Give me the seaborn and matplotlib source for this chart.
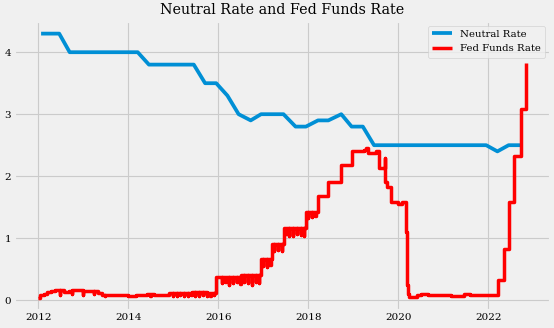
import matplotlib
matplotlib.use("Agg")
import matplotlib.pyplot as plt
import matplotlib.dates as mdates
import seaborn as sns
import pandas as pd

# ---------------- data ----------------
# Neutral rate (long-run projection), points at projection dates
neutral_dates = [
    "2012-01-25", "2012-04-25", "2012-06-20", "2012-09-13", "2012-12-12",
    "2013-03-20", "2013-06-19", "2013-09-18", "2013-12-18",
    "2014-03-19", "2014-06-18", "2014-09-17", "2014-12-17",
    "2015-03-18", "2015-06-17", "2015-09-17", "2015-12-16",
    "2016-03-16", "2016-06-15", "2016-09-21", "2016-12-14",
    "2017-03-15", "2017-06-14", "2017-09-20", "2017-12-13",
    "2018-03-21", "2018-06-13", "2018-09-26", "2018-12-19",
    "2019-03-20", "2019-06-19", "2019-09-18", "2019-12-11",
    "2020-06-10", "2020-09-16", "2020-12-16",
    "2021-03-17", "2021-06-16", "2021-09-22", "2021-12-15",
    "2022-03-16", "2022-06-15", "2022-09-21"]
neutral_rates = [
    4.3, 4.3, 4.3, 4.0, 4.0,
    4.0, 4.0, 4.0, 4.0,
    4.0, 3.8, 3.8, 3.8,
    3.8, 3.8, 3.5, 3.5,
    3.3, 3.0, 2.9, 3.0,
    3.0, 3.0, 2.8, 2.8,
    2.9, 2.9, 3.0, 2.8,
    2.8, 2.5, 2.5, 2.5,
    2.5, 2.5, 2.5,
    2.5, 2.5, 2.5, 2.5,
    2.4, 2.5, 2.5]

# Fed funds rate: level changes (step function)
ff_dates = [
    "2012-01-03", "2012-01-20", "2012-02-15", "2012-03-12", "2012-04-16", "2012-05-15", "2012-08-01", "2012-09-04", "2012-10-01",
    "2013-01-02", "2013-04-01", "2013-05-01", "2013-06-03", "2013-08-01", "2013-10-01",
    "2014-01-02", "2014-03-03", "2014-04-15", "2014-06-02", "2014-08-01", "2014-11-03", "2014-12-01",
    "2015-01-02", "2015-04-01", "2015-06-01", "2015-10-01", "2015-12-17",
    "2016-01-04", "2016-07-01", "2016-12-15",
    "2017-03-16", "2017-06-15", "2017-12-14",
    "2018-03-22", "2018-06-14", "2018-09-27", "2018-12-20",
    "2019-04-01", "2019-04-15", "2019-05-02", "2019-07-01", "2019-08-01", "2019-09-17", "2019-09-19", "2019-10-01", "2019-10-31",
    "2020-01-02", "2020-01-30", "2020-03-04", "2020-03-16", "2020-03-23", "2020-04-01", "2020-06-01", "2020-07-01", "2020-09-01",
    "2021-01-04", "2021-03-01", "2021-05-03", "2021-06-17", "2021-08-02", "2021-10-01",
    "2022-01-03", "2022-03-17", "2022-05-05", "2022-06-16", "2022-07-28", "2022-09-22", "2022-11-03", "2022-11-04"]
ff_rates = [
    0.04, 0.08, 0.10, 0.13, 0.14, 0.16, 0.13, 0.14, 0.16,
    0.14, 0.15, 0.11, 0.09, 0.08, 0.09,
    0.07, 0.08, 0.09, 0.10, 0.09, 0.09, 0.12,
    0.11, 0.12, 0.13, 0.12, 0.37,
    0.37, 0.40, 0.66,
    0.91, 1.16, 1.42,
    1.68, 1.91, 2.18, 2.40,
    2.43, 2.45, 2.38, 2.40, 2.13, 2.30, 1.90, 1.83, 1.58,
    1.55, 1.59, 1.10, 0.25, 0.10, 0.05, 0.08, 0.10, 0.09,
    0.09, 0.07, 0.06, 0.10, 0.09, 0.08,
    0.08, 0.33, 0.83, 1.58, 2.33, 3.08, 3.83, 3.83]

# Fed funds rate: one-day month-end dips
dip_dates = [
    "2012-06-29", "2012-09-28", "2012-12-31", "2013-03-28", "2013-06-28", "2014-06-30", "2014-12-31",
    "2015-01-30", "2015-02-27", "2015-03-31", "2015-04-30", "2015-05-29", "2015-06-30",
    "2015-07-31", "2015-08-31", "2015-09-30", "2015-10-30", "2015-11-30",
    "2016-01-29", "2016-02-29", "2016-03-31", "2016-04-29", "2016-05-31", "2016-06-30",
    "2016-07-29", "2016-08-31", "2016-09-30", "2016-10-31", "2016-11-30",
    "2016-12-30", "2017-01-31", "2017-02-28", "2017-03-31", "2017-04-28", "2017-05-31",
    "2017-06-30", "2017-07-31", "2017-08-31", "2017-09-29", "2017-10-31", "2017-11-30",
    "2017-12-29", "2018-01-31", "2018-02-28"]
dip_rates = [
    0.09, 0.10, 0.09, 0.10, 0.06, 0.06, 0.06,
    0.07, 0.08, 0.06, 0.07, 0.08, 0.06,
    0.07, 0.08, 0.07, 0.06, 0.08,
    0.27, 0.29, 0.25, 0.28, 0.30, 0.26,
    0.29, 0.28, 0.25, 0.30, 0.28,
    0.55, 0.54, 0.57, 0.79, 0.81, 0.80,
    1.06, 1.03, 1.04, 1.06, 1.05, 1.04,
    1.33, 1.34, 1.35]

# ---------------- build tables ----------------
neutral_df = pd.DataFrame({"date": pd.to_datetime(neutral_dates), "rate": neutral_rates})

base = pd.Series(ff_rates, index=pd.to_datetime(ff_dates))
rows = [(d, v) for d, v in zip(base.index, base.values)]
for d, v in zip(pd.to_datetime(dip_dates), dip_rates):
    nxt = d + pd.Timedelta(days=1)
    rows.append((d, v))
    rows.append((nxt, float(base.asof(nxt))))
ff_df = (pd.DataFrame(rows, columns=["date", "rate"])
         .drop_duplicates(subset="date", keep="first")
         .sort_values("date").reset_index(drop=True))

# ---------------- style ----------------
plt.style.use("fivethirtyeight")
plt.rcParams["font.family"] = ["DejaVu Serif"]

fig, ax = plt.subplots(figsize=(5.54, 3.28), dpi=100)
fig.subplots_adjust(left=14 / 554, right=550.5 / 554, top=1 - 20.6 / 328, bottom=1 - 310.7 / 328)

sns.lineplot(data=neutral_df, x="date", y="rate", ax=ax, color="#008fd5",
             linewidth=2.7, estimator=None, label="Neutral Rate")
sns.lineplot(data=ff_df, x="date", y="rate", ax=ax, color="red",
             linewidth=2.5, estimator=None, drawstyle="steps-post",
             label="Fed Funds Rate")

ax.set_ylim(-0.17, 4.51)
ax.set_yticks([0, 1, 2, 3, 4])
ax.xaxis.set_major_locator(mdates.YearLocator(2))
ax.xaxis.set_major_formatter(mdates.DateFormatter("%Y"))
ax.set_xlabel("")
ax.set_ylabel("")
ax.tick_params(axis="both", labelsize=7.5, pad=2, length=0)
ax.grid(True, color="#cbcbcb", linewidth=0.8)
ax.set_title("Neutral Rate and Fed Funds Rate", fontsize=10.3, pad=5)

ax.legend(loc="upper right", fontsize=7.3, handlelength=2.0, borderaxespad=0.5,
          labelspacing=0.55)

fig.savefig("out.png", dpi=100)
